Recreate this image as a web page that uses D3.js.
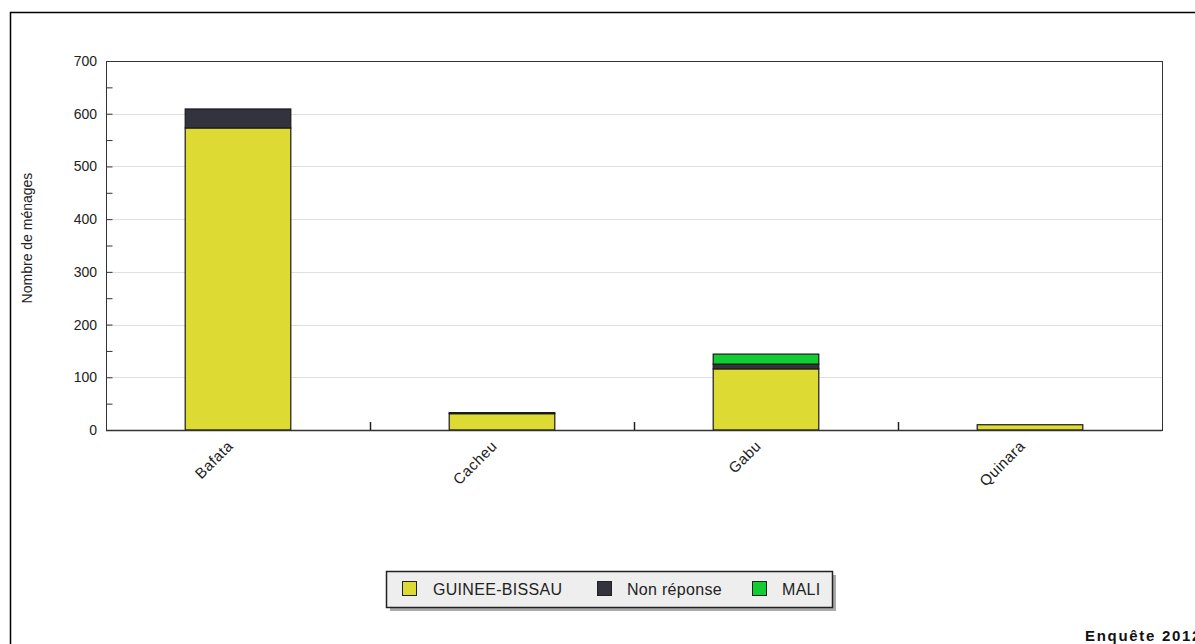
<!DOCTYPE html>
<html>
<head>
<meta charset="utf-8">
<script src="https://cdn.jsdelivr.net/npm/d3@7"></script>
<style>
  html, body { margin: 0; padding: 0; background: #fff; }
  svg { display: block; font-family: "Liberation Sans", Arial, sans-serif; }
</style>
</head>
<body>
<svg id="chart" width="1195" height="644"></svg>
<script>
const categories = ["Bafata", "Cacheu", "Gabu", "Quinara"];
const seriesNames = ["GUINEE-BISSAU", "Non réponse", "MALI"];
const guineeBissau = [573, 31, 116, 10];
const nonReponse = [36, 2, 9, 0];
const mali = [0, 0, 19, 0];
const yTicks = [0, 100, 200, 300, 400, 500, 600, 700];
const yLabel = "Nombre de ménages";
const footer = "Enquête 2012";
const colors = ["#dddb33", "#33333d", "#11cc33"];

const svg = d3.select("#chart");
const m = { left: 106, right: 1162, top: 61, bottom: 430 };

// outer frame
svg.append("rect").attr("x", 10.5).attr("y", 12.5).attr("width", 1200).attr("height", 700)
  .attr("fill", "none").attr("stroke", "#000").attr("stroke-width", 1.5);

const x = d3.scaleBand().domain(categories).range([m.left, m.right]).paddingInner(0).paddingOuter(0);
const y = d3.scaleLinear().domain([0, 700]).range([m.bottom, m.top]);

// gridlines
svg.append("g").selectAll("line").data(yTicks.filter(d => d > 0 && d < 700)).join("line")
  .attr("x1", m.left).attr("x2", m.right)
  .attr("y1", d => Math.round(y(d)) + 0.5).attr("y2", d => Math.round(y(d)) + 0.5)
  .attr("stroke", "#e0e0e0").attr("stroke-width", 1);

// plot frame
svg.append("rect").attr("x", m.left + 0.5).attr("y", m.top + 0.5)
  .attr("width", m.right - m.left).attr("height", m.bottom - m.top)
  .attr("fill", "none").attr("stroke", "#333").attr("stroke-width", 1);

// stacked bars
const data = categories.map((c, i) => ({ cat: c, "GUINEE-BISSAU": guineeBissau[i], "Non réponse": nonReponse[i], "MALI": mali[i] }));
const stack = d3.stack().keys(seriesNames)(data);
const bw = x.bandwidth() * 0.4;
stack.forEach((s, si) => {
  svg.append("g").selectAll("rect").data(s.filter(d => d[1] - d[0] > 0)).join("rect")
    .attr("x", d => x(d.data.cat) + (x.bandwidth() - bw) / 2)
    .attr("y", d => y(d[1]))
    .attr("width", bw)
    .attr("height", d => y(d[0]) - y(d[1]))
    .attr("fill", colors[si])
    .attr("stroke", "#1a1a1a").attr("stroke-width", 1.2);
});

// y axis ticks (inward), major and minor
const yAxis = d3.axisRight(y).tickValues(d3.range(0, 701, 50)).tickSize(6).tickFormat("");
const gy = svg.append("g").attr("transform", `translate(${m.left + 0.5},0)`).call(yAxis);
gy.select(".domain").remove();
gy.selectAll("line").attr("stroke", "#333");

// y labels
svg.append("g").selectAll("text").data(yTicks).join("text")
  .attr("x", m.left - 9).attr("y", d => y(d) + 5)
  .attr("text-anchor", "end").attr("font-size", 14).attr("fill", "#222").text(d => d);

// axis line bottom
svg.append("line").attr("x1", m.left).attr("x2", m.right).attr("y1", m.bottom + 0.5).attr("y2", m.bottom + 0.5)
  .attr("stroke", "#333").attr("stroke-width", 1.5);

// x category separators
svg.append("g").selectAll("line").data(categories.slice(1)).join("line")
  .attr("x1", d => Math.round(x(d)) + 0.5).attr("x2", d => Math.round(x(d)) + 0.5)
  .attr("y1", m.bottom - 8).attr("y2", m.bottom)
  .attr("stroke", "#222").attr("stroke-width", 1.5);

// x labels rotated
svg.append("g").selectAll("text").data(categories).join("text")
  .attr("transform", d => `translate(${x(d) + x.bandwidth() / 2 - 4},${m.bottom + 17}) rotate(-45)`)
  .attr("text-anchor", "end").attr("font-size", 15).attr("letter-spacing", 0.5)
  .attr("fill", "#222").text(d => d);

// y title
svg.append("text").attr("transform", `translate(32,238) rotate(-90)`)
  .attr("text-anchor", "middle").attr("font-size", 14).attr("fill", "#222").text(yLabel);

// legend
const lg = svg.append("g");
const lx = 386, ly = 571, lw = 446, lh = 36;
lg.append("rect").attr("x", lx + 4).attr("y", ly + 4).attr("width", lw).attr("height", lh).attr("fill", "#aaa");
lg.append("rect").attr("x", lx + 0.5).attr("y", ly + 0.5).attr("width", lw).attr("height", lh)
  .attr("fill", "#eeeeee").attr("stroke", "#222").attr("stroke-width", 1.5);
const itemX = [402, 597, 752];
const textX = [433, 627, 782];
seriesNames.forEach((n, i) => {
  lg.append("rect").attr("x", itemX[i] + 0.5).attr("y", 581.5).attr("width", 14).attr("height", 14)
    .attr("fill", colors[i]).attr("stroke", "#222").attr("stroke-width", 1);
  lg.append("text").attr("x", textX[i]).attr("y", 594.5).attr("font-size", 16)
    .attr("letter-spacing", 0.3).attr("fill", "#222").text(n);
});

// footer
svg.append("text").attr("x", 1085).attr("y", 641).attr("font-size", 15).attr("font-weight", "bold")
  .attr("fill", "#111").attr("letter-spacing", 1.7).text(footer);
</script>
</body>
</html>
